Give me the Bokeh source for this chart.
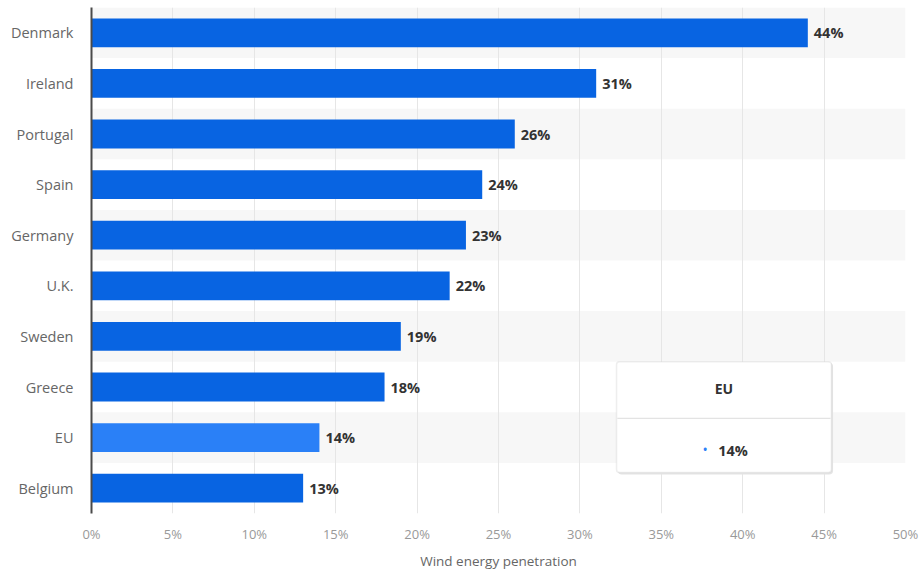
from bokeh.plotting import figure
from bokeh.models import (Range1d, FixedTicker, Grid, BoxAnnotation, Label,
                          ColumnDataSource, LabelSet)
from bokeh.core.properties import value
from bokeh.embed import file_html
from bokeh.resources import INLINE

countries = ["Denmark", "Ireland", "Portugal", "Spain", "Germany", "U.K.",
             "Sweden", "Greece", "EU", "Belgium"]
values = [44, 31, 26, 24, 23, 22, 19, 18, 14, 13]
x_ticks = [0, 5, 10, 15, 20, 25, 30, 35, 40, 45, 50]
highlight = "EU"

n = len(countries)
ypos = [n - 1 - i for i in range(n)]
colors = ["#2a80f7" if c == highlight else "#0864e2" for c in countries]
labels = [f"{v}%" for v in values]

src = ColumnDataSource(dict(y=ypos, v=values, c=colors, lab=labels, name=countries))

p = figure(width=920, height=572, output_backend="svg", toolbar_location=None,
           x_range=Range1d(0, 50), y_range=Range1d(-0.5, n - 0.5),
           min_border_left=91, min_border_right=15, min_border_top=7, min_border_bottom=58)
p.outline_line_color = None
p.background_fill_color = "white"

# alternating row bands
p.ygrid.visible = False
p.xgrid.visible = False
band_grid = Grid(dimension=1, ticker=FixedTicker(ticks=[i - 0.5 for i in range(n + 1)]),
                 grid_line_alpha=0, band_fill_color="#f7f7f7", band_fill_alpha=1.0)
p.add_layout(band_grid)
xg = Grid(dimension=0, ticker=FixedTicker(ticks=x_ticks), grid_line_color="#e6e6e6",
          grid_line_width=1)
p.add_layout(xg)

p.hbar(y="y", right="v", left=0, height=0.57, color="c", source=src, line_color=None)

p.add_layout(LabelSet(x="v", y="y", text="lab", source=src, x_offset=6,
                      text_baseline="middle", text_align="left",
                      text_font=value("Open Sans"), text_font_size="14.5px",
                      text_font_style="bold", text_color="#333333"))

# y axis
p.yaxis.ticker = FixedTicker(ticks=ypos)
p.yaxis.major_label_overrides = {y: c for y, c in zip(ypos, countries)}
p.yaxis.major_tick_line_color = None
p.yaxis.major_tick_out = 0
p.yaxis.major_tick_in = 0
p.yaxis.minor_tick_line_color = None
p.yaxis.axis_line_color = "#4a4a4a"
p.yaxis.axis_line_width = 2
p.yaxis.major_label_standoff = 18
p.yaxis.major_label_text_font = "Open Sans"
p.yaxis.major_label_text_font_size = "14.5px"
p.yaxis.major_label_text_color = "#666666"

# x axis
p.xaxis.ticker = FixedTicker(ticks=x_ticks)
p.xaxis.major_label_overrides = {t: f"{t}%" for t in x_ticks}
p.xaxis.axis_line_color = None
p.xaxis.major_tick_line_color = None
p.xaxis.major_tick_out = 0
p.xaxis.major_tick_in = 0
p.xaxis.minor_tick_line_color = None
p.xaxis.major_label_standoff = 11
p.xaxis.major_label_text_font = "Open Sans"
p.xaxis.major_label_text_font_size = "13px"
p.xaxis.major_label_text_color = "#999999"
p.xaxis.axis_label = "Wind energy penetration"
p.xaxis.axis_label_text_font = "Open Sans"
p.xaxis.axis_label_text_font_size = "13.5px"
p.xaxis.axis_label_text_font_style = "normal"
p.xaxis.axis_label_text_color = "#666666"
p.xaxis.axis_label_standoff = 6

# tooltip-like box
eu_val = values[countries.index(highlight)]
p.add_layout(BoxAnnotation(left=32.33, right=45.55, bottom=0.27, top=2.48,
                           fill_color="#e4e4e4", fill_alpha=1.0, line_color=None,
                           border_radius=4, level="overlay"))
p.add_layout(BoxAnnotation(left=32.25, right=45.45, bottom=0.31, top=2.5,
                           fill_color="white", fill_alpha=1.0, line_color="#c8c8c8",
                           line_width=1.5, border_radius=3, level="overlay"))
p.add_layout(BoxAnnotation(left=32.3, right=45.4, bottom=1.37, top=1.39,
                           fill_color="#e3e3e3", fill_alpha=1.0, line_color=None,
                           level="overlay"))
p.add_layout(Label(x=38.85, y=1.97, text=highlight, text_align="center", text_baseline="middle",
                   text_font="Open Sans", text_font_size="14px", text_font_style="bold",
                   text_color="#333333", level="overlay"))
p.add_layout(Label(x=37.7, y=0.77, text="•", text_align="center", text_baseline="middle",
                   text_font="Open Sans", text_font_size="14px",
                   text_color="#2a80f7", level="overlay"))
p.add_layout(Label(x=38.5, y=0.75, text=f"{eu_val}%", text_align="left", text_baseline="middle",
                   text_font="Open Sans", text_font_size="14.5px", text_font_style="bold",
                   text_color="#333333", level="overlay"))

open("out.html", "w").write(file_html(p, INLINE))
